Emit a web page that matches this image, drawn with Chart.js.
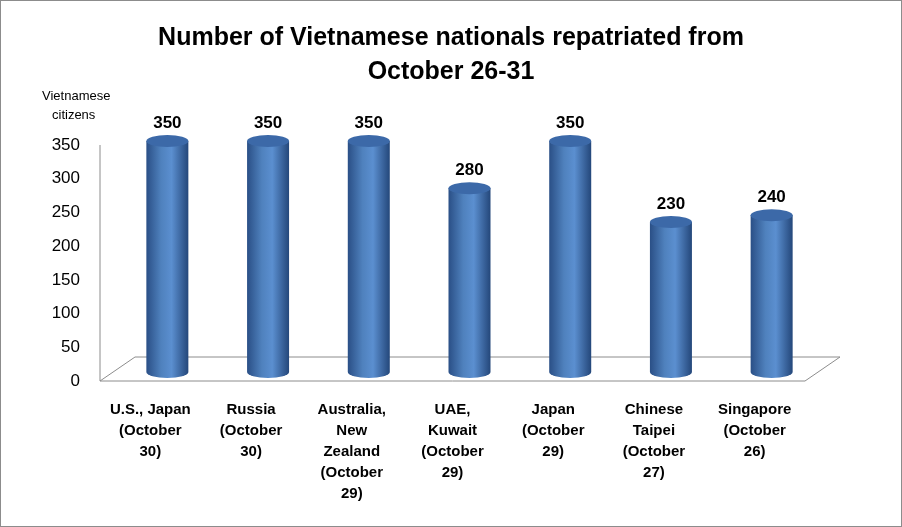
<!DOCTYPE html>
<html><head><meta charset="utf-8">
<script src="https://cdn.jsdelivr.net/npm/chart.js@4"></script>
<style>html,body{margin:0;padding:0;background:#fff}#w{width:902px;height:527px;position:relative}</style>
</head><body><div id="w"><canvas id="c" width="902" height="527"></canvas></div>
<script>
const categories=[["U.S., Japan","(October","30)"],["Russia","(October","30)"],["Australia,","New","Zealand","(October","29)"],["UAE,","Kuwait","(October","29)"],["Japan","(October","29)"],["Chinese","Taipei","(October","27)"],["Singapore","(October","26)"]];
const values=[350,350,350,280,350,230,240];
const titleLines=["Number of Vietnamese nationals repatriated from","October 26-31"];
const yTitle=["Vietnamese","citizens"];
const F="'Liberation Sans', Arial, sans-serif";
const deco={id:'deco',
beforeDatasetsDraw(ch){const c=ch.ctx,a=ch.chartArea;c.save();
 c.strokeStyle='#8c8c8c';c.lineWidth=1;
 c.beginPath();c.moveTo(a.left,a.bottom);c.lineTo(a.right,a.bottom);c.lineTo(a.right+35,a.bottom-24);c.lineTo(a.left+35,a.bottom-24);c.closePath();c.stroke();
 c.beginPath();c.moveTo(a.left,a.top);c.lineTo(a.left,a.bottom);c.stroke();
 c.restore();},
afterDatasetsDraw(ch){const c=ch.ctx,y=ch.scales.y,m=ch.getDatasetMeta(0);c.save();
 m.data.forEach((b,i)=>{const cx=b.x+17,w=42,rx=w/2,ry=6;const top=y.getPixelForValue(values[i])-4,bot=y.getPixelForValue(0)-9;
  const g=c.createLinearGradient(cx-rx,0,cx+rx,0);g.addColorStop(0,'#2a4f86');g.addColorStop(0.35,'#4f81bd');g.addColorStop(0.6,'#5b8fd0');g.addColorStop(1,'#24477a');
  c.fillStyle=g;c.beginPath();c.moveTo(cx-rx,top);c.lineTo(cx-rx,bot);c.ellipse(cx,bot,rx,ry,0,Math.PI,0,true);c.lineTo(cx+rx,top);c.closePath();c.fill();
  c.fillStyle='#3c69a8';c.beginPath();c.ellipse(cx,top,rx,ry,0,0,Math.PI*2);c.fill();
  c.fillStyle='#000';c.font='bold 17px '+F;c.textAlign='center';c.textBaseline='bottom';c.fillText(values[i],cx,top-9);
 });
 c.font='bold 25px '+F;c.textAlign='center';c.textBaseline='middle';c.fillStyle='#000';
 c.fillText(titleLines[0],451,38);c.fillText(titleLines[1],451,72);
 c.font='13px '+F;c.textAlign='left';c.fillText(yTitle[0],42,96);c.fillText(yTitle[1],52,115);
 c.strokeStyle='#8c8c8c';c.lineWidth=1;c.strokeRect(0.5,0.5,901,526);
 c.restore();}};
new Chart(document.getElementById('c'),{type:'bar',
data:{labels:categories,datasets:[{data:values,backgroundColor:'rgba(0,0,0,0)'}]},
options:{responsive:false,animation:false,devicePixelRatio:1,
 layout:{padding:{top:145,right:97,left:0,bottom:0}},
 plugins:{legend:{display:false},tooltip:{enabled:false}},
 scales:{y:{min:0,max:350,ticks:{stepSize:50,color:'#000',font:{size:17,family:F},padding:12},grid:{display:false},border:{display:false},afterFit(s){s.width=100;}},
  x:{ticks:{color:'#000',font:{size:15,weight:'bold',family:F,lineHeight:1.4},maxRotation:0,autoSkip:false,padding:10},grid:{display:false},border:{display:false},afterFit(s){s.height=146;}}}},
plugins:[deco]});
</script></body></html>
